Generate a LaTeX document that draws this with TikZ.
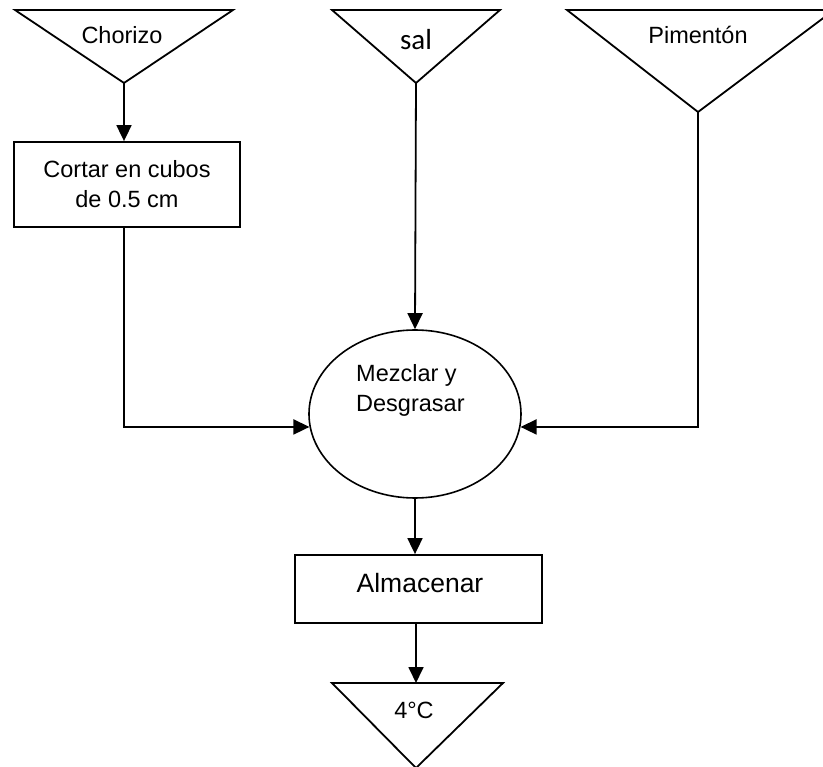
\documentclass[tikz,border=0pt]{standalone}
\usepackage{fontspec}
\setmainfont{Liberation Sans}
\newfontfamily\salfont{Carlito}
\usetikzlibrary{arrows.meta,shapes.geometric}
\begin{document}
\begin{tikzpicture}[x=1pt,y=-1pt,
  line/.style={line width=1.8pt},
  flow/.style={line width=1.8pt, -{Triangle[length=16pt,width=15pt]}},
  storebox/.style={draw, line width=1.8pt, line join=miter},
  procbox/.style={draw, line width=1.8pt, rectangle, inner sep=0pt, align=center},
  txt/.style={font=\fontsize{23.5}{30}\selectfont, align=center, inner sep=0pt},
]
\useasboundingbox (0,0) rectangle (823,767);
\begin{scope}
\clip (0,0) rectangle (823,767);
% storage triangles (inputs and final storage)
\draw[storebox] (15,10) -- (233,10) -- (124,83) -- cycle;
\draw[storebox] (332,10) -- (500,10) -- (416,83) -- cycle;
\draw[storebox] (567,10) -- (834,10) -- (698,112) -- cycle;
\draw[storebox] (332,683) -- (503,683) -- (416,768) -- cycle;
\end{scope}
\coordinate (chorizoTip) at (124,83);
\coordinate (salTip) at (416,83);
\coordinate (pimTip) at (698,112);
\coordinate (coldTop) at (416,683);

\node[txt] (chorizo) at (122,35) {Chorizo};
\node[txt, font=\salfont\fontsize{29}{30}\selectfont] (sal) at (416,40) {sal};
\node[txt] (pim) at (698,35) {Pimentón};
\node[txt] (cold) at (414,710) {4°C};

% process steps
\node[procbox, minimum width=226pt, minimum height=85pt, txt] (cut) at (127,184.5)
  {Cortar en cubos\\de 0.5 cm};
\node[draw, ellipse, line width=1.6pt, minimum width=212pt, minimum height=168pt, inner sep=0pt]
  (mix) at (415,414) {};
\node[txt, align=left, anchor=west] (mixlbl) at (356,390) {Mezclar y\\Desgrasar};
\node[procbox, minimum width=247pt, minimum height=68pt] (store) at (418.5,589) {};
\node[txt, font=\fontsize{26.5}{30}\selectfont] (storelbl) at (420,583) {Almacenar};

% connectors
\draw[flow] (chorizoTip) -- (chorizoTip |- cut.north);
\draw[flow] (cut.south -| chorizoTip) |- (mix.187);
\draw[flow] (salTip) -- (mix.north);
\draw[flow] (pimTip) |- (mix.353);
\draw[flow] (mix.south) -- (mix.south |- store.north);
\draw[flow] (store.south -| coldTop) -- (coldTop);
\end{tikzpicture}
\end{document}
